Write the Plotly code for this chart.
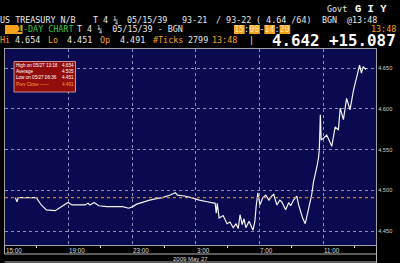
import plotly.graph_objects as go

# ---------------- data ----------------
times = [
    "2009-05-26 15:39", "2009-05-26 15:45", "2009-05-26 15:50", "2009-05-26 16:58",
    "2009-05-26 17:17", "2009-05-26 17:36", "2009-05-26 18:09", "2009-05-26 18:36",
    "2009-05-26 18:58", "2009-05-26 19:13", "2009-05-26 20:02", "2009-05-26 20:13",
    "2009-05-26 20:21", "2009-05-26 20:36", "2009-05-26 20:54", "2009-05-26 21:24",
    "2009-05-26 22:24", "2009-05-26 22:47", "2009-05-26 23:02", "2009-05-26 23:17",
    "2009-05-26 23:36", "2009-05-27 00:06", "2009-05-27 00:36", "2009-05-27 00:54",
    "2009-05-27 01:21", "2009-05-27 01:43", "2009-05-27 01:51", "2009-05-27 02:17",
    "2009-05-27 02:43", "2009-05-27 03:13", "2009-05-27 03:43", "2009-05-27 04:13",
    "2009-05-27 04:17", "2009-05-27 04:21", "2009-05-27 04:28", "2009-05-27 04:43",
    "2009-05-27 04:58", "2009-05-27 05:09", "2009-05-27 05:21", "2009-05-27 05:32",
    "2009-05-27 05:40", "2009-05-27 05:47", "2009-05-27 05:55", "2009-05-27 06:02",
    "2009-05-27 06:09", "2009-05-27 06:21", "2009-05-27 06:36", "2009-05-27 06:43",
    "2009-05-27 06:47", "2009-05-27 06:54", "2009-05-27 07:02", "2009-05-27 07:13",
    "2009-05-27 07:24", "2009-05-27 07:36", "2009-05-27 07:47", "2009-05-27 07:54",
    "2009-05-27 08:06", "2009-05-27 08:17", "2009-05-27 08:24", "2009-05-27 08:39",
    "2009-05-27 08:51", "2009-05-27 08:58", "2009-05-27 09:09", "2009-05-27 09:21",
    "2009-05-27 09:28", "2009-05-27 09:36", "2009-05-27 09:43", "2009-05-27 09:53",
    "2009-05-27 09:58", "2009-05-27 10:06", "2009-05-27 10:17", "2009-05-27 10:24",
    "2009-05-27 10:30", "2009-05-27 10:37", "2009-05-27 10:43", "2009-05-27 10:46",
    "2009-05-27 10:50", "2009-05-27 10:53", "2009-05-27 11:02", "2009-05-27 11:14",
    "2009-05-27 11:24", "2009-05-27 11:33", "2009-05-27 11:46", "2009-05-27 11:58",
    "2009-05-27 12:05", "2009-05-27 12:17", "2009-05-27 12:29", "2009-05-27 12:42",
    "2009-05-27 12:55", "2009-05-27 13:07", "2009-05-27 13:18", "2009-05-27 13:25",
    "2009-05-27 13:32", "2009-05-27 13:40", "2009-05-27 13:44",
]
prices = [
    4.491, 4.486, 4.491, 4.491,
    4.482, 4.476, 4.475, 4.480,
    4.485, 4.482, 4.482, 4.484,
    4.482, 4.485, 4.481, 4.480,
    4.480, 4.478, 4.480, 4.483,
    4.485, 4.488, 4.490, 4.491,
    4.494, 4.497, 4.494, 4.493,
    4.491, 4.488, 4.486, 4.484,
    4.472, 4.484, 4.466, 4.469,
    4.459, 4.461, 4.454, 4.459,
    4.453, 4.470, 4.458, 4.465,
    4.454, 4.462, 4.451, 4.462,
    4.478, 4.497, 4.482, 4.491,
    4.494, 4.488, 4.493, 4.495,
    4.482, 4.488, 4.486, 4.476,
    4.485, 4.481, 4.488, 4.493,
    4.482, 4.472, 4.466, 4.459,
    4.467, 4.480, 4.494, 4.510,
    4.518, 4.529, 4.540, 4.550,
    4.593, 4.562, 4.564, 4.568,
    4.561, 4.554, 4.578, 4.574,
    4.601, 4.587, 4.613, 4.599,
    4.623, 4.640, 4.654, 4.644,
    4.652, 4.649, 4.650,
]
prev_close = 4.491
x_range = ["2009-05-26 15:00", "2009-05-27 14:20"]
tick_times = ["2009-05-26 15:00", "2009-05-26 19:00", "2009-05-26 23:00",
              "2009-05-27 03:00", "2009-05-27 07:00", "2009-05-27 11:00"]
tick_labels = ["15:00", "19:00", "23:00", "3:00", "7:00", "11:00"]
y_ticks = [4.45, 4.50, 4.55, 4.60, 4.65]
legend_labels = ["High on 05/27 13:18", "Average", "Low on 05/27 06:36", "Prev Close \u2014\u2014"]
legend_values = ["4.654", "4.505", "4.451", "4.491"]

# ---------------- geometry helpers ----------------
W, H = 400, 263
L, R, T, B = 5, 24, 49, 18
PW, PH = W - L - R, H - T - B


def px(x):
    return (x - L) / PW


def py(y):
    return 1 - (y - T) / PH


NAVY = "#0a0a50"
GRID = "#8e8eb8"
ORANGE = "#f5a21f"
GREEN = "#3cc83c"
WHITE = "#e8e8e8"
MONO = "DejaVu Sans Mono"
SANS = "Liberation Sans"
HS = 8.4  # header font size
PITCH = 0.602 * HS

fig = go.Figure()
fig.add_trace(go.Scatter(x=times, y=prices, mode="lines",
                         line=dict(color="#f2f2f2", width=1.2), hoverinfo="skip"))
fig.add_hline(y=prev_close, line=dict(color="#c97a3a", dash="dot", width=1.3))

fig.update_layout(
    width=W, height=H,
    margin=dict(l=L, r=R, t=T, b=B),
    paper_bgcolor="black", plot_bgcolor=NAVY,
    showlegend=False,
    xaxis=dict(type="date", range=x_range, tickvals=tick_times, showticklabels=False,
               showgrid=True, gridcolor=GRID, griddash="dot", gridwidth=1,
               showline=True, linecolor="#a0a0a0", linewidth=1, mirror=True,
               zeroline=False, ticks="",
               minor=dict(ticks="outside", ticklen=2, tickcolor="#dddddd",
                          tick0="2009-05-26 17:00", dtick=4 * 3600 * 1000, showgrid=False)),
    yaxis=dict(side="right", range=[4.4328, 4.6737], tickvals=y_ticks, tickformat=".3f",
               tickfont=dict(family=SANS, size=5.7, color="#d0d0d0"),
               showgrid=True, gridcolor=GRID, griddash="dot", gridwidth=1,
               showline=True, linecolor="#a0a0a0", linewidth=1, mirror=True,
               zeroline=False, ticks="", ticklen=0),
)

shapes = []
LINE = dict(color="#b4b4b4", width=1)
# right axis panel box
shapes.append(dict(type="rect", xref="paper", yref="paper", x0=1, x1=px(395.5), y0=py(246), y1=1, line=LINE))
# bottom strip lines
for yy in (254, 262):
    shapes.append(dict(type="line", xref="paper", yref="paper", x0=px(4.5), x1=px(376.5), y0=py(yy), y1=py(yy), line=LINE))
shapes.append(dict(type="line", xref="paper", yref="paper", x0=px(376.5), x1=px(376.5), y0=py(245.5), y1=py(263), line=LINE))
shapes.append(dict(type="line", xref="paper", yref="paper", x0=px(4.5), x1=px(4.5), y0=py(245.5), y1=py(254), line=LINE))
# legend box
shapes.append(dict(type="rect", xref="paper", yref="paper", x0=px(14), x1=px(75.5), y0=py(92), y1=py(61.5),
                   fillcolor="#920c0c", line=dict(color="#c89090", width=1)))
# orange header boxes (behind text)
HB = [(5, 22.5)]
TX = 234.3
for i0 in (0, 3, 6, 9):
    HB.append((TX + i0 * PITCH - 0.3, TX + (i0 + 2) * PITCH + 0.3))
for a, b in HB:
    shapes.append(dict(type="rect", xref="paper", yref="paper", x0=px(a), x1=px(b), y0=py(34), y1=py(25),
                       fillcolor=ORANGE, line=dict(width=0), layer="below"))
fig.update_layout(shapes=shapes)

ann = []


def txt(x, y, s, color=WHITE, size=HS, family=MONO, anchor="left", weight="normal", xref="paper"):
    ann.append(dict(x=x if xref != "paper" else px(x), y=py(y), xref=xref, yref="paper", text=s, showarrow=False,
                    xanchor=anchor, yanchor="middle",
                    font=dict(family=family, size=size, color=color, weight=weight),
                    borderpad=0, borderwidth=0))


# header row 0
txt(327, 9.3, "Govt")
txt(355, 9.3, "G I Y", size=10.5, family="Liberation Mono", weight="bold", color="white")
# header row 1
for xx, s in [(0, "US TREASURY N/B"), (93, "T 4 \u00bc"), (126.5, "05/15/39"), (181.5, "93-21"),
              (216, "/ 93-22"), (255.5, "( 4.64 /64)"), (322, "BGN"), (346.5, "@13:48")]:
    txt(xx, 19.6, s)
# header row 2
txt(16.5, 29.5, "1", color="#1a1a1a", weight="bold")
txt(22.5, 29.5, "-DAY CHART", color=GREEN)
txt(77, 29.5, "T 4 \u00bc  05/15/39 - BGN")
tc = "#ffe3a6"
txt(TX, 29.5, f'<span style="color:{tc}">15</span>:<span style="color:{tc}">00</span>-'
              f'<span style="color:{tc}">14</span>:<span style="color:{tc}">20</span>', color=WHITE)
txt(371, 29.3, "13:48", color=ORANGE)
# header row 3
for xx, s, c in [(0, "Hi", ORANGE), (15, "4.654", WHITE), (48, "Lo", ORANGE), (67, "4.451", WHITE),
                 (100, "Op", ORANGE), (120, "4.491", WHITE), (153, "#Ticks", ORANGE), (188, "2799", WHITE),
                 (212, "13:48", ORANGE), (249, "|", WHITE)]:
    txt(xx, 39.7, s, color=c)
txt(272, 40.8, "4.642 +15.087", size=15.8, weight="bold", color="white")

# legend rows
for yy, lab, val, i in zip([65, 71.4, 77.7, 84], legend_labels, legend_values, range(4)):
    c = "#ff9b2a" if i == 3 else "white"
    txt(15.5, yy, lab, color=c, size=4.6, family=SANS)
    txt(73.5, yy, val, color=c, size=4.6, family=SANS, anchor="right")

# x tick labels (left aligned to grid lines)
for t, lab in zip(tick_times, tick_labels):
    txt(t, 250.3, lab, color="#dddddd", size=6.3, family=SANS, xref="x")
    ann[-1]["xshift"] = 0.8
txt(190, 258.5, "2009 May 27", color="#dddddd", size=6, family=SANS, anchor="center")

fig.update_layout(annotations=ann)
fig.write_html("out.html")
